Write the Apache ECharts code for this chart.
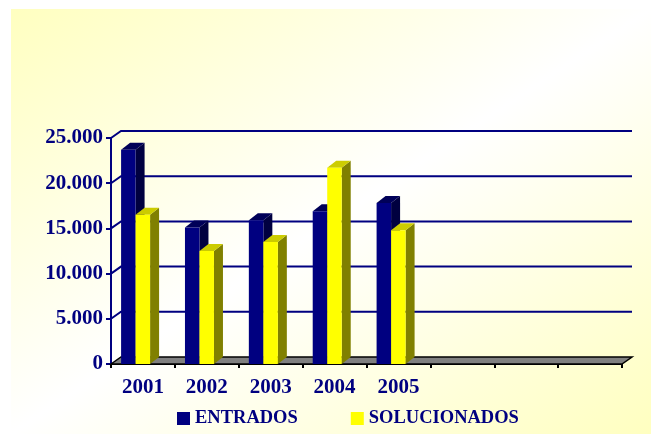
<!DOCTYPE html>
<html>
<head>
<meta charset="utf-8">
<script src="https://cdn.jsdelivr.net/npm/echarts@6/dist/echarts.min.js"></script>
<style>html,body{margin:0;padding:0;background:#fff}#c{width:651px;height:434px}</style>
</head>
<body>
<div id="c"></div>
<script>
const categories = ['2001', '2002', '2003', '2004', '2005', '', '', ''];
const entrados = [23700, 15100, 15900, 16900, 17800];
const solucionados = [16500, 12500, 13500, 21700, 14800];
const yTicks = [0, 5000, 10000, 15000, 20000, 25000];
const seriesNames = ['ENTRADOS', 'SOLUCIONADOS'];

const NAVY = '#000080';
const FONT = 'Liberation Serif';
const WALL_DX = 10, WALL_DY = -7;
const BAR_DX = 9, BAR_DY = -7;

const faces = [
  { front: '#000080', side: '#000040', top: '#000058' },
  { front: '#FFFF00', side: '#808000', top: '#CCCC00' }
];

function fmt(v) {
  return String(v).replace(/\B(?=(\d{3})+(?!\d))/g, '.');
}

function barRenderer(si) {
  return function (params, api) {
    const idx = api.value(0), val = api.value(1);
    const c = api.coord([idx, val]);
    const b = api.coord([idx, 0]);
    const bw = api.size([1, 0])[0];
    const barW = bw * 0.227;
    const x0 = c[0] - bw / 2 + bw * 0.158 + si * barW;
    const x1 = x0 + barW;
    const yT = c[1], yB = b[1];
    const f = faces[si];
    return {
      type: 'group',
      children: [
        { type: 'polygon', shape: { points: [[x1, yT], [x1 + BAR_DX, yT + BAR_DY], [x1 + BAR_DX, yB + BAR_DY], [x1, yB]] }, style: { fill: f.side } },
        { type: 'polygon', shape: { points: [[x0, yT], [x0 + BAR_DX, yT + BAR_DY], [x1 + BAR_DX, yT + BAR_DY], [x1, yT]] }, style: { fill: f.top } },
        { type: 'rect', shape: { x: x0, y: yT, width: barW, height: yB - yT }, style: { fill: f.front } }
      ]
    };
  };
}

const chart = echarts.init(document.getElementById('c'), null, { renderer: 'canvas' });

const W = 640, H = 425, X0 = 11, Y0 = 9;
const k = 2 * W * H / (W * W + H * H);
const bgGrad = new echarts.graphic.LinearGradient(X0, Y0, X0 + H * k, Y0 + W * k, [
  { offset: 0, color: '#FFFFC0' },
  { offset: 0.5, color: '#FFFFFF' },
  { offset: 1, color: '#FFFFC0' }
], true);

chart.setOption({
  backgroundColor: '#ffffff',
  animation: false,
  graphic: [{
    type: 'rect', z: -10, silent: true,
    shape: { x: X0, y: Y0, width: W, height: H },
    style: { fill: bgGrad }
  }],
  grid: { left: 111, right: 29, top: 138, bottom: 70 },
  legend: {
    data: seriesNames,
    icon: 'rect',
    padding: 0,
    itemWidth: 13, itemHeight: 13, itemGap: 53,
    left: 177, top: 409,
    textStyle: { color: NAVY, fontFamily: FONT, fontWeight: 'bold', fontSize: 18.5 }
  },
  xAxis: {
    type: 'category',
    data: categories,
    axisLine: { lineStyle: { color: '#000', width: 2 } },
    axisTick: { show: true, length: 4, lineStyle: { color: '#000', width: 2 } },
    axisLabel: { margin: 13, color: NAVY, fontFamily: FONT, fontWeight: 'bold', fontSize: 21 },
    splitLine: { show: false }
  },
  yAxis: {
    type: 'value', min: 0, max: 25000, interval: 5000,
    axisLine: { show: true, lineStyle: { color: NAVY, width: 2 } },
    axisTick: { show: true, length: 5, lineStyle: { color: NAVY, width: 2 } },
    axisLabel: { margin: 8, color: NAVY, fontFamily: FONT, fontWeight: 'bold', fontSize: 21, formatter: fmt },
    splitLine: { show: false }
  },
  series: [
    {
      type: 'custom', name: 'walls', z: 1, silent: true,
      data: yTicks.filter(v => v > 0).map(v => [0, v]),
      renderItem: function (params, api) {
        const v = api.value(1);
        const bw = api.size([1, 0])[0];
        const p = api.coord([0, v]);
        const q = api.coord([categories.length - 1, v]);
        const L = p[0] - bw / 2, R = q[0] + bw / 2, y = p[1];
        return {
          type: 'polyline',
          shape: { points: [[L, y], [L + WALL_DX, y + WALL_DY], [R + WALL_DX, y + WALL_DY]] },
          style: { stroke: NAVY, lineWidth: 2, fill: null }
        };
      }
    },
    {
      type: 'custom', name: 'floor', z: 2, silent: true,
      data: [[0, 0]],
      renderItem: function (params, api) {
        const bw = api.size([1, 0])[0];
        const p = api.coord([0, 0]);
        const q = api.coord([categories.length - 1, 0]);
        const L = p[0] - bw / 2, R = q[0] + bw / 2, y = p[1];
        return {
          type: 'polygon',
          shape: { points: [[L, y], [L + WALL_DX, y + WALL_DY], [R + WALL_DX, y + WALL_DY], [R, y]] },
          style: { fill: '#808080', stroke: '#000', lineWidth: 1.5 }
        };
      }
    },
    {
      type: 'custom', name: seriesNames[0], z: 3,
      itemStyle: { color: faces[0].front },
      data: entrados.map((v, i) => [i, v]),
      renderItem: barRenderer(0)
    },
    {
      type: 'custom', name: seriesNames[1], z: 4,
      itemStyle: { color: faces[1].front },
      data: solucionados.map((v, i) => [i, v]),
      renderItem: barRenderer(1)
    }
  ]
});
</script>
</body>
</html>
